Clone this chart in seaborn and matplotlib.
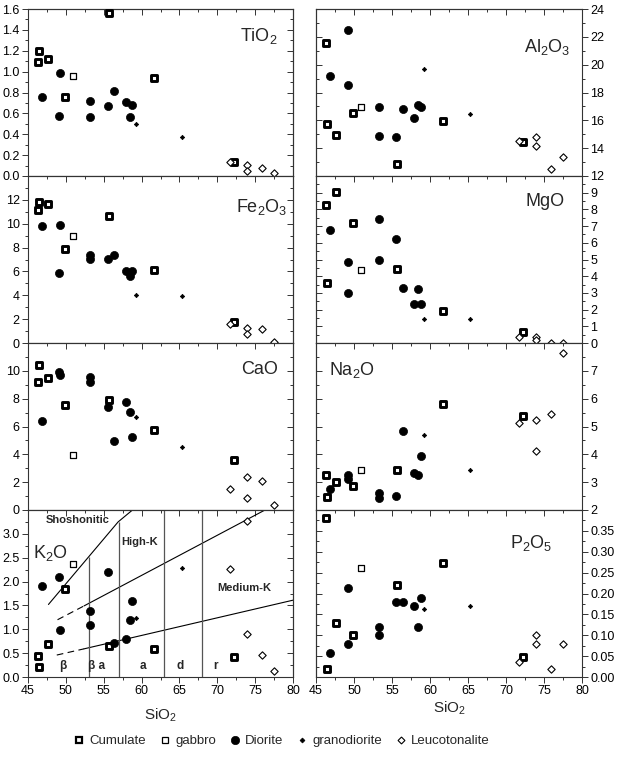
import matplotlib
matplotlib.use("Agg")
import numpy as np
import pandas as pd
import matplotlib.pyplot as plt
import seaborn as sns
from matplotlib.ticker import MultipleLocator, FormatStrFormatter
from matplotlib.lines import Line2D

# ---------------------------- #
# 1. DATA (wt.% oxides)
# ---------------------------- #
rock = (["Cumulate"] * 7 + ["gabbro"] + ["Diorite"] * 10
        + ["granodiorite"] * 2 + ["Leucotonalite"] * 5)
sio2 = [46.3, 46.45, 47.6, 49.9, 55.65, 61.65, 72.2,
        50.95,
        46.8, 49.15, 49.25, 53.25, 53.25, 55.5, 56.4, 57.95, 58.45, 58.75,
        59.25, 65.3,
        71.7, 73.9, 73.9, 75.9, 77.45]
tio2 = [1.09, 1.20, 1.12, 0.76, 1.56, 0.94, 0.13,
        0.96,
        0.755, 0.576, 0.99, 0.72, 0.563, 0.666, 0.81, 0.71, 0.563, 0.685,
        0.50, 0.37,
        0.134, 0.11, 0.045, 0.077, 0.026]
al2o3 = [21.55, 15.72, 14.95, 16.56, 12.84, 15.96, 14.45,
         16.99,
         19.2, 22.49, 18.53, 16.99, 14.88, 14.78, 16.8, 16.15, 17.09, 16.99,
         19.66, 16.42,
         14.52, 14.81, 14.16, 12.53, 13.34]
fe2o3 = [11.13, 11.83, 11.64, 7.89, 10.63, 6.1, 1.76,
         8.95,
         9.82, 5.87, 9.93, 7.38, 7.05, 7.05, 7.38, 6.01, 5.59, 6.01,
         4.06, 3.97,
         1.57, 1.26, 0.76, 1.15, 0.06]
mgo = [8.28, 3.6, 9.02, 7.2, 4.46, 1.92, 0.64,
       4.38,
       6.76, 2.98, 4.86, 7.4, 4.96, 6.2, 3.32, 2.32, 3.24, 2.32,
       1.46, 1.46,
       0.36, 0.36, 0.16, 0.02, 0.02]
cao = [9.2, 10.39, 9.47, 7.52, 7.88, 5.73, 3.61,
       3.98,
       6.41, 9.93, 9.71, 9.57, 9.2, 7.42, 4.99, 7.76, 7.01, 5.23,
       6.70, 4.5,
       1.49, 2.34, 0.89, 2.1, 0.36]
na2o = [3.24, 2.48, 2.99, 2.87, 3.45, 5.8, 5.37,
        3.45,
        2.75, 3.27, 3.11, 2.6, 2.42, 2.52, 4.83, 3.33, 3.25, 3.95,
        4.7, 3.43,
        5.12, 5.25, 4.12, 5.46, 7.65]
k2o = [0.435, 0.21, 0.70, 1.84, 0.65, 0.58, 0.41,
       2.36,
       1.91, 2.09, 0.98, 1.39, 1.09, 2.21, 0.72, 0.80, 1.19, 1.59,
       1.24, 2.29,
       2.26, 3.27, 0.90, 0.46, 0.13]
p2o5 = [0.382, 0.018, 0.129, 0.101, 0.22, 0.272, 0.0485,
        0.26,
        0.058, 0.078, 0.212, 0.12, 0.101, 0.18, 0.18, 0.17, 0.12, 0.189,
        0.162, 0.17,
        0.036, 0.101, 0.078, 0.018, 0.078]

# Peccerillo & Taylor series boundaries + rock-name fields in the K2O panel
shosh_x, shosh_y = [47.7, 56.9, 58.8], [1.52, 3.25, 3.5]
highk_x, highk_y = [48.9, 52.4, 76.3], [1.2, 1.49, 3.5]
medk_x, medk_y = [48.8, 52.4, 80.0], [0.46, 0.59, 1.61]
field_x = [53, 57, 63, 68]
field_top = [2.51, 3.25, 3.5, 3.5]
field_names = ["β", "β a", "a", "d", "r"]
field_name_x = [49.6, 54.0, 60.2, 65.1, 69.7]

df = pd.DataFrame({"rock": rock, "SiO2": sio2, "TiO2": tio2, "Al2O3": al2o3,
                   "Fe2O3": fe2o3, "MgO": mgo, "CaO": cao, "Na2O": na2o,
                   "K2O": k2o, "P2O5": p2o5})

styles = {
    "Cumulate": dict(marker="s", s=18, color="white", edgecolor="black", linewidth=2.1),
    "gabbro": dict(marker="s", s=22, color="white", edgecolor="black", linewidth=0.9),
    "Diorite": dict(marker="o", s=34, color="black", edgecolor="black", linewidth=0.5),
    "granodiorite": dict(marker="D", s=5, color="black", edgecolor="black", linewidth=0.5),
    "Leucotonalite": dict(marker="D", s=14, color="white", edgecolor="black", linewidth=0.8),
}

# column, label, ylim, major, minor, fmt, row, col, label x, label y, ha
panels = [
    ("TiO2", "TiO$_2$", (0, 1.6), 0.2, 0.1, "%.1f", 0, 0, 0.94, 0.84, "right"),
    ("Al2O3", "Al$_2$O$_3$", (12, 24), 2, 1, "%d", 0, 1, 0.955, 0.77, "right"),
    ("Fe2O3", "Fe$_2$O$_3$", (0, 14), 2, 1, "%d", 1, 0, 0.98, 0.815, "right"),
    ("MgO", "MgO", (0, 10), 1, 0.5, "%d", 1, 1, 0.936, 0.85, "right"),
    ("CaO", "CaO", (0, 12), 2, 1, "%d", 2, 0, 0.943, 0.84, "right"),
    ("Na2O", "Na$_2$O", (2, 8), 1, 0.5, "%d", 2, 1, 0.05, 0.84, "left"),
    ("K2O", "K$_2$O", (0, 3.5), 0.5, 0.25, "%.1f", 3, 0, 0.02, 0.74, "left"),
    ("P2O5", "P$_2$O$_5$", (0, 0.4), 0.05, 0.025, "%.2f", 3, 1, 0.89, 0.80, "right"),
]

# ---------------------------- #
# 2. FIGURE
# ---------------------------- #
sns.set_style("ticks")
plt.rcParams["font.family"] = ["Liberation Sans", "DejaVu Sans"]
plt.rcParams["mathtext.default"] = "regular"

W, H = 619, 763
fig = plt.figure(figsize=(W / 100, H / 100), dpi=100)
col_left = [28, 316]
col_width = [265, 266]
row_top = [9, 176, 343, 510]
row_h = 167
edge = "#333333"

for col_name, label, ylim, major, minor, fmt, r, c, lx, ly, ha in panels:
    ax = fig.add_axes([col_left[c] / W, 1 - (row_top[r] + row_h) / H,
                       col_width[c] / W, row_h / H])
    for name, st in styles.items():
        sub = df[df["rock"] == name]
        sns.scatterplot(data=sub, x="SiO2", y=col_name, ax=ax, legend=False,
                        clip_on=False, zorder=3, **st)
    ax.set_xlim(45, 80)
    ax.set_ylim(*ylim)
    ax.set_xlabel("")
    ax.set_ylabel("")

    # keep the top value unlabelled except on the first row
    top = ylim[1] + major * 0.01 if r == 0 else ylim[1] - major * 0.5
    ax.set_yticks(np.arange(ylim[0], top, major))
    ax.yaxis.set_minor_locator(MultipleLocator(minor))
    ax.yaxis.set_major_formatter(FormatStrFormatter(fmt))
    ax.xaxis.set_major_locator(MultipleLocator(5))
    ax.xaxis.set_minor_locator(MultipleLocator(2.5))

    if c == 1:
        ax.yaxis.tick_right()
    ax.tick_params(which="both", direction="out", colors=edge, labelcolor="black",
                   width=0.7, labelsize=9, pad=2)
    ax.tick_params(which="major", length=4)
    ax.tick_params(which="minor", length=2.3)
    ax.tick_params(axis="x", labelbottom=(r == 3))

    # mirrored ticks, pointing inwards
    sec_y = ax.secondary_yaxis("right" if c == 0 else "left")
    sec_y.yaxis.set_major_locator(MultipleLocator(major))
    sec_y.yaxis.set_minor_locator(MultipleLocator(minor))
    sec_y.tick_params(which="both", direction="in", colors=edge, width=0.7,
                      labelleft=False, labelright=False)
    sec_y.tick_params(which="major", length=4)
    sec_y.tick_params(which="minor", length=2.3)
    sec_x = ax.secondary_xaxis("top")
    sec_x.xaxis.set_major_locator(MultipleLocator(5))
    sec_x.xaxis.set_minor_locator(MultipleLocator(2.5))
    sec_x.tick_params(which="both", direction="in", colors=edge, width=0.7,
                      labeltop=False)
    sec_x.tick_params(which="major", length=4)
    sec_x.tick_params(which="minor", length=2.3)
    for sp in list(ax.spines.values()) + [sec_y.spines[s] for s in sec_y.spines] \
            + [sec_x.spines[s] for s in sec_x.spines]:
        sp.set_color(edge)
        sp.set_linewidth(0.8)

    ax.text(lx, ly, label, transform=ax.transAxes, ha=ha, va="center", fontsize=13)

    if col_name == "K2O":
        ax.plot(shosh_x, shosh_y, color="black", lw=0.8, zorder=2)
        ax.plot(highk_x[:2], highk_y[:2], color="black", lw=0.8, ls=(0, (6, 4)), zorder=2)
        ax.plot(highk_x[1:], highk_y[1:], color="black", lw=0.8, zorder=2)
        ax.plot(medk_x[:2], medk_y[:2], color="black", lw=0.8, ls=(0, (6, 4)), zorder=2)
        ax.plot(medk_x[1:], medk_y[1:], color="black", lw=0.8, zorder=2)
        ax.vlines(field_x, 0, field_top, color="#555555", lw=0.9, zorder=2)
        for txt, fx in zip(field_names, field_name_x):
            ax.text(fx, 0.23, txt, ha="center", va="center", fontsize=8.5,
                    fontweight="bold")
        ax.text(51.5, 3.29, "Shoshonitic", ha="center", va="center",
                fontsize=8, fontweight="bold")
        ax.text(59.8, 2.82, "High-K", ha="center", va="center",
                fontsize=8, fontweight="bold")
        ax.text(73.6, 1.86, "Medium-K", ha="center", va="center",
                fontsize=8, fontweight="bold")

fig.text(160 / W, 1 - 715 / H, "SiO$_2$", ha="center", va="center", fontsize=11)
fig.text(449 / W, 1 - 708 / H, "SiO$_2$", ha="center", va="center", fontsize=11)

handles = []
for name, st in styles.items():
    handles.append(Line2D([], [], ls="", marker=st["marker"],
                          markersize={"Cumulate": 4.5, "gabbro": 5, "Diorite": 6,
                                      "granodiorite": 2.5, "Leucotonalite": 3.5}[name],
                          markerfacecolor=st["color"], markeredgecolor="black",
                          markeredgewidth=min(st["linewidth"], 1.6), label=name))
fig.legend(handles=handles, loc="center", bbox_to_anchor=(282 / W, 1 - 741 / H),
           ncol=5, frameon=False, fontsize=9.5, handlelength=0.8,
           handletextpad=0.4, columnspacing=1.0)

fig.savefig("out.png", dpi=100)
